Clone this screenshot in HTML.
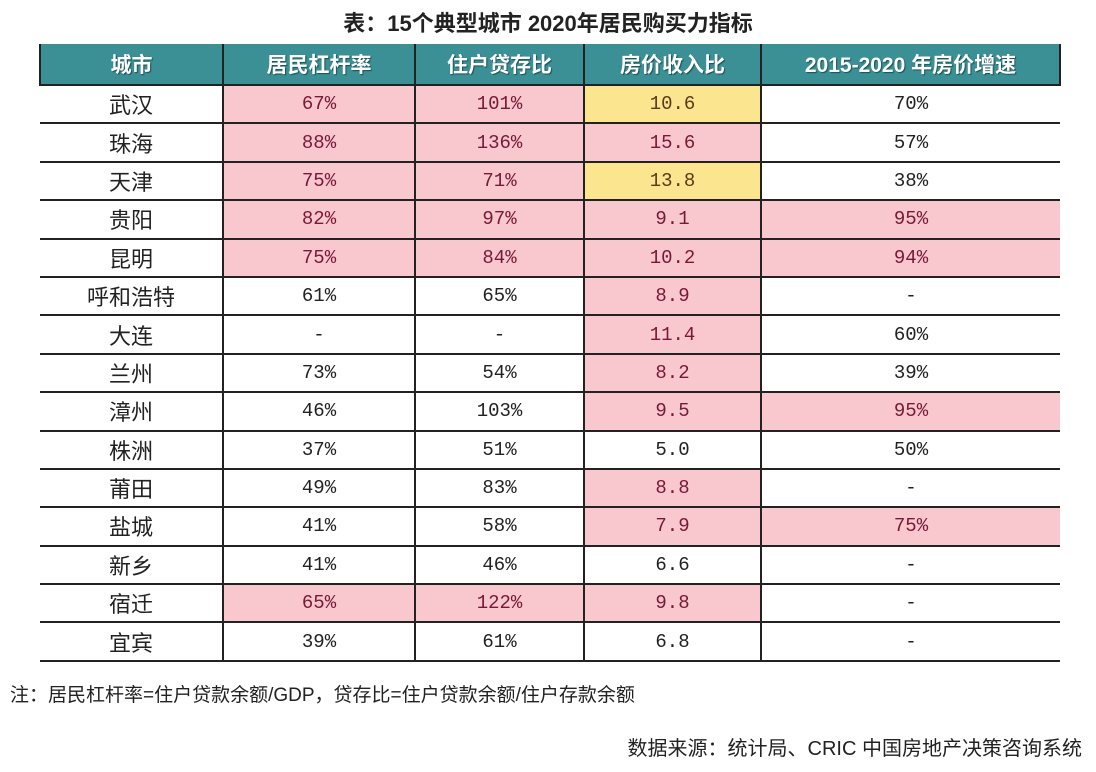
<!DOCTYPE html><html><head><meta charset="utf-8"><style>
body{margin:0;width:1096px;height:772px;background:#fff;font-family:"Liberation Sans","Noto Sans CJK SC",sans-serif;position:relative;overflow:hidden}
.t{position:absolute;top:6px;left:0;width:1096px;text-align:center;font-size:22px;font-weight:bold;color:#222}
table{position:absolute;left:39px;top:44px;border-collapse:collapse;width:1022px}
th{background:#3b9096;color:#fff;font-size:21px;height:38px;border-left:2px solid #222;border-right:2px solid #222;text-shadow:1px 1px 1px #1c4f55;border-bottom:2px solid #222}
td{height:36.4px;border-top:2px solid #222;border-bottom:2px solid #222;border-left:2px solid #222;text-align:center;font-size:19px;color:#222;padding:0;font-family:"Liberation Mono","Noto Sans CJK SC",monospace}
td:first-child{border-left:none;font-size:22px;font-family:"Liberation Sans","Noto Sans CJK SC",sans-serif}
td:last-child{border-right:none}
.p{background:#f8c8ce;color:#7a1838}.y{background:#fbe58f;color:#5a3a1a}
.n{position:absolute;left:10px;top:680px;font-size:19px;color:#222}
.s{position:absolute;right:14px;top:732px;font-size:20px;color:#222}
</style></head><body>
<div class="t">表：15个典型城市 2020年居民购买力指标</div>
<table>
<colgroup><col style="width:183px"><col style="width:192px"><col style="width:169px"><col style="width:177px"><col></colgroup>
<tr><th>城市</th><th>居民杠杆率</th><th>住户贷存比</th><th>房价收入比</th><th>2015-2020 年房价增速</th></tr>
<tr><td>武汉</td><td class="p">67%</td><td class="p">101%</td><td class="y">10.6</td><td>70%</td></tr>
<tr><td>珠海</td><td class="p">88%</td><td class="p">136%</td><td class="p">15.6</td><td>57%</td></tr>
<tr><td>天津</td><td class="p">75%</td><td class="p">71%</td><td class="y">13.8</td><td>38%</td></tr>
<tr><td>贵阳</td><td class="p">82%</td><td class="p">97%</td><td class="p">9.1</td><td class="p">95%</td></tr>
<tr><td>昆明</td><td class="p">75%</td><td class="p">84%</td><td class="p">10.2</td><td class="p">94%</td></tr>
<tr><td>呼和浩特</td><td>61%</td><td>65%</td><td class="p">8.9</td><td>-</td></tr>
<tr><td>大连</td><td>-</td><td>-</td><td class="p">11.4</td><td>60%</td></tr>
<tr><td>兰州</td><td>73%</td><td>54%</td><td class="p">8.2</td><td>39%</td></tr>
<tr><td>漳州</td><td>46%</td><td>103%</td><td class="p">9.5</td><td class="p">95%</td></tr>
<tr><td>株洲</td><td>37%</td><td>51%</td><td>5.0</td><td>50%</td></tr>
<tr><td>莆田</td><td>49%</td><td>83%</td><td class="p">8.8</td><td>-</td></tr>
<tr><td>盐城</td><td>41%</td><td>58%</td><td class="p">7.9</td><td class="p">75%</td></tr>
<tr><td>新乡</td><td>41%</td><td>46%</td><td>6.6</td><td>-</td></tr>
<tr><td>宿迁</td><td class="p">65%</td><td class="p">122%</td><td class="p">9.8</td><td>-</td></tr>
<tr><td>宜宾</td><td>39%</td><td>61%</td><td>6.8</td><td>-</td></tr>
</table>
<div class="n">注：居民杠杆率=住户贷款余额/GDP，贷存比=住户贷款余额/住户存款余额</div>
<div class="s">数据来源：统计局、CRIC 中国房地产决策咨询系统</div>
</body></html>
